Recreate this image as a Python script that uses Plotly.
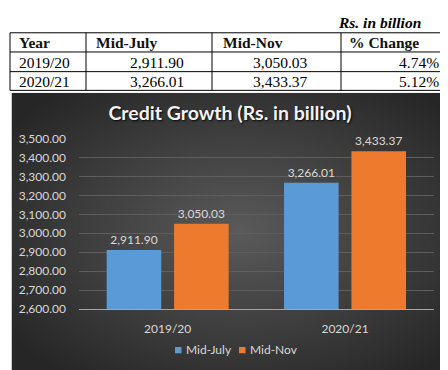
import base64
import plotly.graph_objects as go

# ---------------- data ----------------
years = ["2019/20", "2020/21"]
series_names = ["Mid-July", "Mid-Nov"]
mid_july = [2911.90, 3266.01]
mid_nov = [3050.03, 3433.37]
pct_change = ["4.74%", "5.12%"]
table_headers = ["Year", "Mid-July", "Mid-Nov", "% Change"]
unit_note = "Rs. in billion"
chart_title = "Credit Growth (Rs. in billion)"

W, H = 448, 370
def px(x):
    return x / W
def py(y):
    return 1 - y / H

BLUE = "#5b9bd5"
ORANGE = "#ee7a2e"
LABEL = "#d9d9d9"
LFONT = "Lato"
LSIZE = 12

fig = go.Figure()
fig.add_trace(go.Bar(x=years, y=mid_july, name=series_names[0], marker=dict(color=BLUE, line=dict(width=0)),
                     texttemplate="%{y:,.2f}", textposition="outside", cliponaxis=False,
                     textfont=dict(family=LFONT, size=LSIZE, color=LABEL), showlegend=False))
fig.add_trace(go.Bar(x=years, y=mid_nov, name=series_names[1], marker=dict(color=ORANGE, line=dict(width=0)),
                     texttemplate="%{y:,.2f}", textposition="outside", cliponaxis=False,
                     textfont=dict(family=LFONT, size=LSIZE, color=LABEL), showlegend=False))

# dark radial-gradient chart background
svg = ('<svg xmlns="http://www.w3.org/2000/svg" width="437" height="290" viewBox="0 0 437 290" preserveAspectRatio="none">'
       '<defs><radialGradient id="g" cx="52%" cy="50%" r="65%">'
       '<stop offset="0%" stop-color="#5a5a5a"/><stop offset="100%" stop-color="#262626"/>'
       '</radialGradient></defs><rect width="437" height="290" fill="url(#g)"/></svg>')
src = "data:image/svg+xml;base64," + base64.b64encode(svg.encode()).decode()
fig.add_layout_image(dict(source=src, xref="paper", yref="paper", x=px(3.5), y=py(80),
                          sizex=px(440) - px(3.5), sizey=py(80) - py(370), sizing="stretch",
                          xanchor="left", yanchor="top", layer="below"))

shapes = []
# table borders
for yy in [17.5, 37.5, 58, 77.5]:
    shapes.append(dict(type="line", xref="paper", yref="paper", x0=px(2), x1=px(438), y0=py(yy), y1=py(yy),
                       line=dict(color="black", width=1)))
for xx in [2, 78, 204, 333, 438]:
    shapes.append(dict(type="line", xref="paper", yref="paper", x0=px(xx), x1=px(xx), y0=py(17.5), y1=py(77.5),
                       line=dict(color="black", width=1)))
# legend squares
for x0, col in [(167, BLUE), (231, ORANGE)]:
    shapes.append(dict(type="rect", xref="paper", yref="paper", x0=px(x0), x1=px(x0 + 6.5), y0=py(351.5), y1=py(345),
                       fillcolor=col, line=dict(width=0)))

ann = []
serif = "Liberation Serif"
TS = 15.5
ann.append(dict(text="<b><i>" + unit_note + "</i></b>", x=px(415), y=py(7), xanchor="right", yanchor="middle",
                font=dict(family=serif, size=TS, color="#000")))
head_x = [9, 86, 213, 339]
for t, xx in zip(table_headers, head_x):
    ann.append(dict(text="<b>" + t + "</b>", x=px(xx), y=py(28), xanchor="left", yanchor="middle",
                    font=dict(family=serif, size=TS, color="#111")))
row_y = [48, 68]
for i, yr in enumerate(years):
    ann.append(dict(text=yr, x=px(9), y=py(row_y[i]), xanchor="left", yanchor="middle",
                    font=dict(family=serif, size=TS, color="#000")))
    ann.append(dict(text=f"{mid_july[i]:,.2f}", x=px(178), y=py(row_y[i]), xanchor="right", yanchor="middle",
                    font=dict(family=serif, size=TS, color="#000")))
    ann.append(dict(text=f"{mid_nov[i]:,.2f}", x=px(302), y=py(row_y[i]), xanchor="right", yanchor="middle",
                    font=dict(family=serif, size=TS, color="#000")))
    ann.append(dict(text=pct_change[i], x=px(433), y=py(row_y[i]), xanchor="right", yanchor="middle",
                    font=dict(family=serif, size=TS, color="#000")))
# legend texts
for name, xx in zip(series_names, [176, 240]):
    ann.append(dict(text=name, x=px(xx), y=py(348), xanchor="left", yanchor="middle",
                    font=dict(family=LFONT, size=LSIZE, color=LABEL)))
for a in ann:
    a.update(xref="paper", yref="paper", showarrow=False)

fig.update_layout(
    width=W, height=H, margin=dict(l=0, r=0, t=0, b=0),
    paper_bgcolor="white", plot_bgcolor="rgba(0,0,0,0)",
    barmode="group", bargap=0.24, bargroupgap=0.19,
    title=dict(text="<b>" + chart_title + "</b>", x=px(222), y=py(101.5), xanchor="center", yanchor="middle",
               xref="paper", yref="paper",
               font=dict(family="Lato", size=19.5, color="#f2f2f2", shadow="1px 1px 2px rgba(0,0,0,0.9)")),
    xaxis=dict(domain=[px(71), px(425.7)], showgrid=False, showline=True, linecolor="#a6a6a6", linewidth=1,
               ticks="", ticklabelstandoff=8, tickfont=dict(family=LFONT, size=LSIZE, color=LABEL)),
    yaxis=dict(domain=[py(305.5), py(127.7)], range=[2600, 3500], dtick=100, tickformat=",.2f",
               showgrid=True, gridcolor="#5e5e5e", gridwidth=1, zeroline=False, showline=False,
               ticks="", ticklabelstandoff=12, tickfont=dict(family=LFONT, size=LSIZE, color=LABEL)),
    shapes=shapes, annotations=ann, showlegend=False,
)

fig.write_html("out.html")
